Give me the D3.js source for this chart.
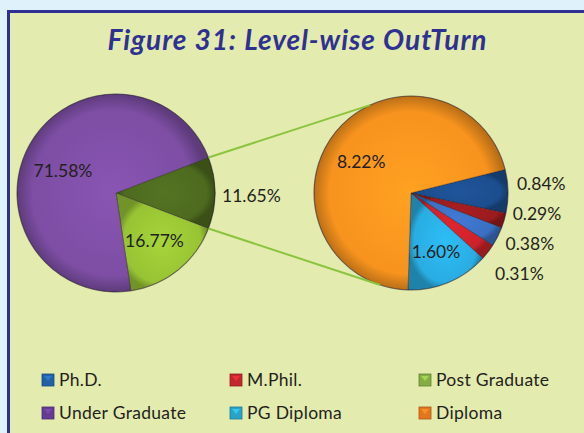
<!DOCTYPE html>
<html>
<head>
<meta charset="utf-8">
<script src="https://cdn.jsdelivr.net/npm/d3@7"></script>
<style>
  html, body { margin: 0; padding: 0; background: #dff2fb; }
  svg { display: block; }
</style>
</head>
<body>
<svg id="chart" width="584" height="433"></svg>
<script>
// main pie (the "other" slice is split out into the second pie)
const mainNames = ["Other", "Post Graduate", "Under Graduate"];
const mainValues = [11.65, 16.77, 71.58];
const mainColors = ["#4d6a1f", "#98c334", "#7d4ea4"];

// breakdown pie
const subNames = ["Ph.D.", "M.Phil.", "Ph.D. (2)", "M.Phil. (2)", "PG Diploma", "Diploma"];
const subValues = [0.84, 0.29, 0.38, 0.31, 1.60, 8.22];
const subColors = ["#1c4e8e", "#9b1b1e", "#3a70c2", "#cc2229", "#29ade2", "#f7931e"];

const legendNames = ["Ph.D.", "M.Phil.", "Post Graduate", "Under Graduate", "PG Diploma", "Diploma"];
const legendColors = ["#2361a7", "#c1272d", "#86ad45", "#643b92", "#2aa3c9", "#e4761f"];

const svg = d3.select("#chart");
const FONT = "Lato, 'Open Sans', sans-serif";
const deg = Math.PI / 180;

// panel
svg.append("rect")
    .attr("x", 8.5).attr("y", 11.5)
    .attr("width", 620).attr("height", 460)
    .attr("fill", "#e3ebae")
    .attr("stroke", "#2e3192")
    .attr("stroke-width", 3);

svg.append("text")
    .attr("x", 297).attr("y", 50)
    .attr("text-anchor", "middle")
    .attr("font-family", FONT)
    .attr("font-weight", "bold")
    .attr("font-style", "italic")
    .attr("font-size", "28px")
    .attr("textLength", 379)
    .attr("lengthAdjust", "spacing")
    .attr("fill", "#2e3192")
    .text("Figure 31: Level-wise OutTurn");

const defs = svg.append("defs");

function shade(id, color) {
    const g = defs.append("radialGradient").attr("id", id)
        .attr("cx", "50%").attr("cy", "50%").attr("r", "50%");
    g.append("stop").attr("offset", "0%").attr("stop-color", d3.color(color).brighter(0.25));
    g.append("stop").attr("offset", "84%").attr("stop-color", color);
    g.append("stop").attr("offset", "100%").attr("stop-color", d3.color(color).darker(0.8));
}

function drawPie(cx, cy, r, names, values, colors, start, key) {
    const pie = d3.pie().sort(null).value(d => d)
        .startAngle(start).endAngle(start + 2 * Math.PI);
    const arcs = pie(values);
    const arc = d3.arc().innerRadius(0).outerRadius(r);
    const g = svg.append("g").attr("transform", `translate(${cx},${cy})`);

    colors.forEach((c, i) => shade(`${key}${i}`, c));

    g.selectAll("path")
        .data(arcs)
        .enter()
        .append("path")
        .attr("d", arc)
        .attr("fill", (d, i) => `url(#${key}${i})`)
        .attr("stroke", "rgba(30,20,40,0.45)")
        .attr("stroke-width", 0.8);

    // soft rim
    g.append("circle").attr("r", r).attr("fill", "none")
        .attr("stroke", "rgba(40,30,50,0.35)").attr("stroke-width", 1.2);

    return { g, arcs, arc, cx, cy, r };
}

const left = drawPie(116, 193, 99, mainNames, mainValues, mainColors,
    90 * deg - (mainValues[0] / d3.sum(mainValues)) * Math.PI, "m");
const right = drawPie(411, 193, 97, subNames, subValues, subColors, 76 * deg, "s");

// connector lines: edges of the "Other" slice to the breakdown pie
const other = left.arcs[0];
const ends = [
    [other.startAngle, -25 * deg],
    [other.endAngle, 198.5 * deg]
];
ends.forEach(([a1, a2]) => {
    svg.append("line")
        .attr("x1", left.cx + Math.sin(a1) * left.r)
        .attr("y1", left.cy - Math.cos(a1) * left.r)
        .attr("x2", right.cx + Math.sin(a2) * right.r)
        .attr("y2", right.cy - Math.cos(a2) * right.r)
        .attr("stroke", "#8cc43f")
        .attr("stroke-width", 2);
});

function fmt(v) { return v.toFixed(2) + "%"; }

function label(p, x, y, txt, anchor) {
    p.g.append("text")
        .attr("x", x).attr("y", y)
        .attr("dy", "0.35em")
        .attr("text-anchor", anchor)
        .attr("font-family", FONT)
        .attr("font-size", "17.5px")
        .attr("fill", "#231f20")
        .text(txt);
}

// inside labels
const inner = (p, d, k) => {
    const a = (d.startAngle + d.endAngle) / 2;
    const y = -Math.cos(a) * p.r * k;
    return [Math.sin(a) * p.r * k, y < 0 ? y + 9 : y];
};
[left.arcs[1], left.arcs[2]].forEach(d => {
    const [x, y] = inner(left, d, 0.62);
    label(left, x, y, fmt(d.data), "middle");
});
[right.arcs[4], right.arcs[5]].forEach(d => {
    const [x, y] = inner(right, d, 0.66);
    label(right, x, y, fmt(d.data), "middle");
});

// outside labels
{
    const d = left.arcs[0];
    const a = (d.startAngle + d.endAngle) / 2;
    label(left, Math.sin(a) * (left.r + 7), -Math.cos(a) * (left.r + 7) + 3, fmt(d.data), "start");
}
{
    const outs = right.arcs.slice(0, 4);
    const mids = outs.map(d => (d.startAngle + d.endAngle) / 2);
    const ys = mids.map(a => -Math.cos(a) * right.r);
    const mean = d3.mean(ys) + 4;
    const gap = 30;
    outs.forEach((d, i) => {
        const y = mean + (i - (outs.length - 1) / 2) * gap;
        label(right, Math.sin(mids[i]) * (right.r + 9), y, fmt(d.data), "start");
    });
}

// legend
const legX = [42, 230, 419];
const legY = [380, 413];
legendNames.forEach((name, i) => {
    const x = legX[i % 3], y = legY[Math.floor(i / 3)];
    const c = legendColors[i];
    const lg = svg.append("g").attr("transform", `translate(${x},${y})`);
    lg.append("rect")
        .attr("x", 0).attr("y", -6)
        .attr("width", 12).attr("height", 12)
        .attr("fill", c)
        .attr("stroke", d3.color(c).darker(0.8))
        .attr("stroke-width", 0.8);
    lg.append("path")
        .attr("d", "M2,-4 L10,-4 L6,1 Z")
        .attr("fill", d3.color(c).brighter(0.8))
        .attr("opacity", 0.7);
    lg.append("text")
        .attr("x", 17).attr("y", 0)
        .attr("dy", "0.35em")
        .attr("font-family", FONT)
        .attr("font-size", "17.5px")
        .attr("letter-spacing", "0.3px")
        .attr("fill", "#231f20")
        .text(name);
});
</script>
</body>
</html>
